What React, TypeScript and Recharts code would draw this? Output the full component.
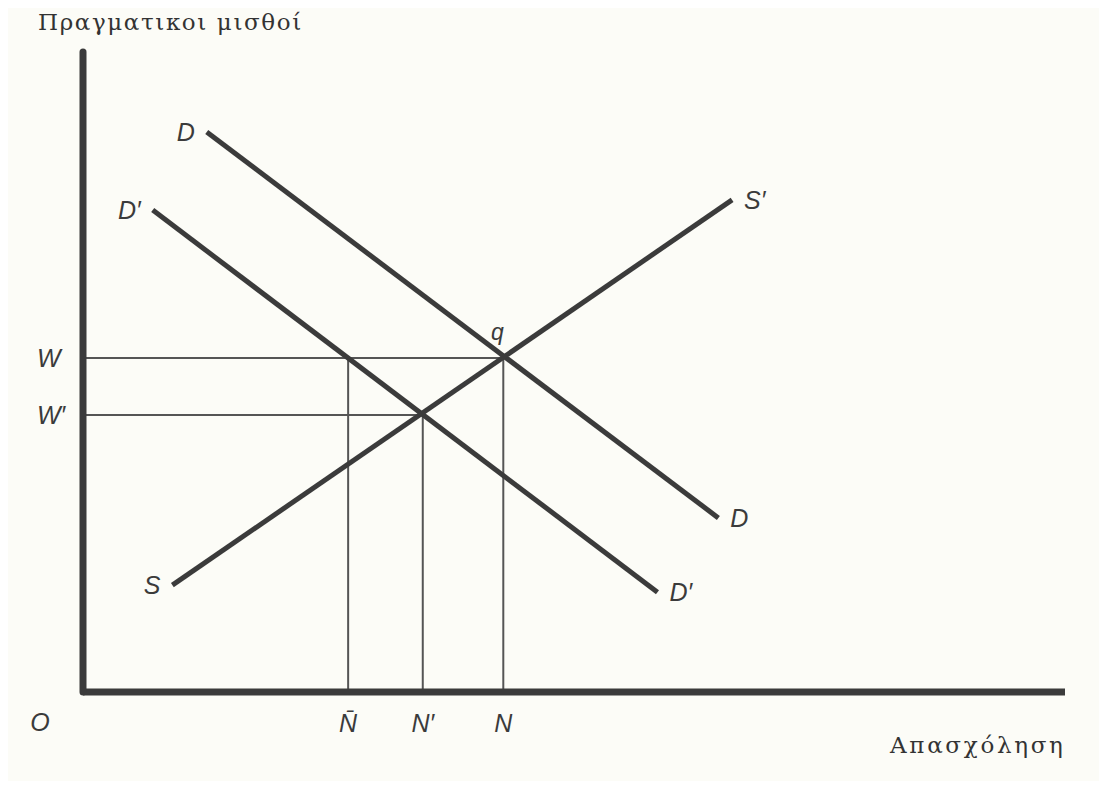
import React from "react";
import {
  ComposedChart,
  Line,
  XAxis,
  YAxis,
  ReferenceLine,
  ReferenceDot,
  LabelList,
} from "recharts";

// employment levels on the horizontal axis
const employmentTicks = [27.0, 34.6, 42.8];
const employmentLabels = ["N\u0304", "N\u2032", "N"];

// real wage levels on the vertical axis
const wageTicks = [0, 43.3, 52.2];
const wageLabels = ["O", "W\u2032", "W"];

// curves: two end points each
const demandD = [
  { x: 12.6, y: 87.5 },
  { x: 64.7, y: 27.2 },
];
const demandD2 = [
  { x: 7.1, y: 75.3 },
  { x: 58.5, y: 15.6 },
];
const supplyS = [
  { x: 9.1, y: 16.7 },
  { x: 66.1, y: 76.9 },
];

const curveNames = {
  D: ["D", "D"],
  D2: ["D\u2032", "D\u2032"],
  S: ["S", "S\u2032"],
};

const INK = "#3b3b3b";
const labelFont = { fontFamily: "'Liberation Sans', Arial, sans-serif", fontStyle: "italic" as const, fontSize: 25, fill: INK };
const captionStyle = {
  position: "absolute" as const,
  fontFamily: "'DejaVu Serif', 'Liberation Serif', serif",
  fontSize: 23,
  color: "#333",
  whiteSpace: "nowrap" as const,
};

const [N_BAR, N_PRIME, N_EQ] = employmentTicks;
const [, W_PRIME, W_EQ] = wageTicks;

function endLabel(names: string[]) {
  return (props: any) => {
    const { x, y, index } = props;
    const first = index === 0;
    return (
      <text
        x={first ? x - 12 : x + 12}
        y={y}
        dy="0.35em"
        textAnchor={first ? "end" : "start"}
        {...labelFont}
      >
        {names[index]}
      </text>
    );
  };
}

function XTick(props: any) {
  const { x, y, payload } = props;
  const i = employmentTicks.indexOf(payload.value);
  return (
    <text x={x} y={y + 23} dy="0.35em" textAnchor="middle" {...labelFont}>
      {employmentLabels[i]}
    </text>
  );
}

function YTick(props: any) {
  const { x, y, payload } = props;
  const i = wageTicks.indexOf(payload.value);
  const origin = payload.value === 0;
  return (
    <text
      x={origin ? x - 35 : x - 38}
      y={origin ? y + 30 : y}
      dy="0.35em"
      textAnchor={origin ? "middle" : "start"}
      {...labelFont}
    >
      {wageLabels[i]}
    </text>
  );
}

export default function App() {
  return (
    <div style={{ position: "relative", width: 1091, height: 773, background: "#fcfcf7" }}>
      <div style={{ ...captionStyle, left: 30, top: 1, letterSpacing: 1.6 }}>Πραγματικοι μισθοί</div>
      <div style={{ ...captionStyle, left: 882, top: 724, letterSpacing: 2.7 }}>Απασχόληση</div>
      <ComposedChart width={1091} height={773} margin={{ top: 44, right: 34, bottom: 49, left: 0 }}>
        <XAxis
          type="number"
          dataKey="x"
          domain={[0, 100]}
          ticks={employmentTicks}
          tick={<XTick />}
          tickLine={false}
          axisLine={{ stroke: INK, strokeWidth: 7 }}
          height={40}
          allowDataOverflow
        />
        <YAxis
          type="number"
          dataKey="y"
          domain={[0, 100]}
          ticks={wageTicks}
          tick={<YTick />}
          tickLine={false}
          axisLine={{ stroke: INK, strokeWidth: 7, strokeLinecap: "round" }}
          width={75}
          allowDataOverflow
        />
        <ReferenceLine segment={[{ x: 0, y: W_EQ }, { x: N_EQ, y: W_EQ }]} stroke="#555" strokeWidth={2} />
        <ReferenceLine segment={[{ x: 0, y: W_PRIME }, { x: N_PRIME, y: W_PRIME }]} stroke="#555" strokeWidth={2} />
        <ReferenceLine segment={[{ x: N_BAR, y: 0 }, { x: N_BAR, y: W_EQ }]} stroke="#555" strokeWidth={2} />
        <ReferenceLine segment={[{ x: N_PRIME, y: 0 }, { x: N_PRIME, y: W_PRIME }]} stroke="#555" strokeWidth={2} />
        <ReferenceLine segment={[{ x: N_EQ, y: 0 }, { x: N_EQ, y: W_EQ }]} stroke="#555" strokeWidth={2} />
        <Line data={demandD} dataKey="y" stroke={INK} strokeWidth={5} dot={false} isAnimationActive={false}>
          <LabelList dataKey="y" content={endLabel(curveNames.D)} />
        </Line>
        <Line data={demandD2} dataKey="y" stroke={INK} strokeWidth={5} dot={false} isAnimationActive={false}>
          <LabelList dataKey="y" content={endLabel(curveNames.D2)} />
        </Line>
        <Line data={supplyS} dataKey="y" stroke={INK} strokeWidth={5} dot={false} isAnimationActive={false}>
          <LabelList dataKey="y" content={endLabel(curveNames.S)} />
        </Line>
        <ReferenceDot
          x={N_EQ}
          y={W_EQ}
          r={0}
          label={(p: any) => (
            <text x={p.viewBox.x - 6} y={p.viewBox.y - 26} dy="0.35em" textAnchor="middle" {...labelFont} fontSize={23}>
              q
            </text>
          )}
        />
      </ComposedChart>
    </div>
  );
}
